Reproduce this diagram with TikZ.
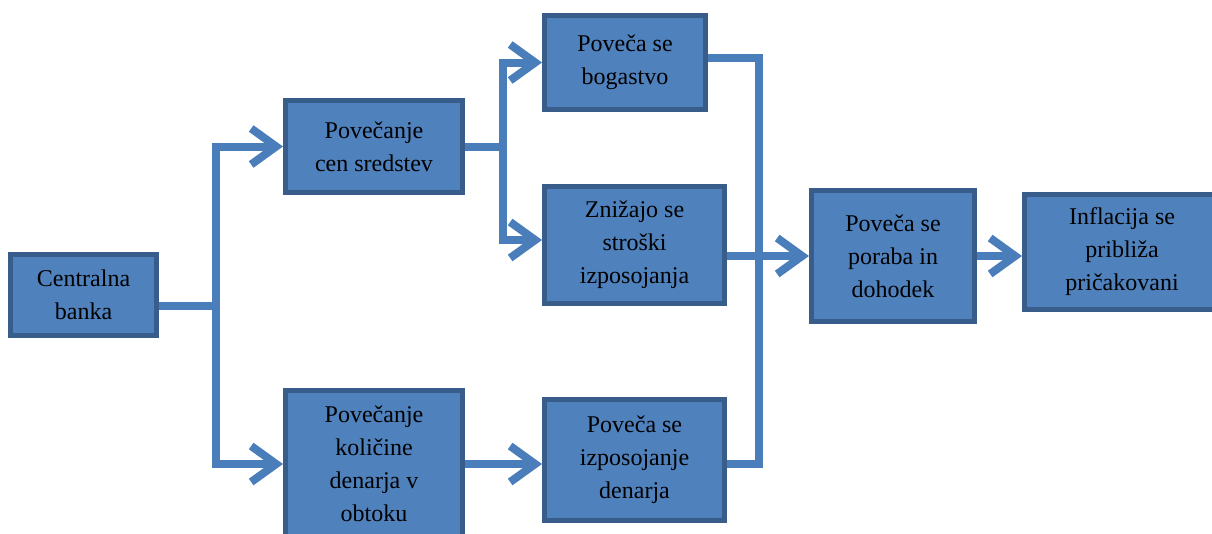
\documentclass[tikz,border=0pt]{standalone}
\usepackage{fontspec}
\setmainfont{Liberation Serif}
\usetikzlibrary{arrows.meta}
\definecolor{boxfill}{HTML}{4F81BD}
\definecolor{boxline}{HTML}{385D8A}
\definecolor{conncol}{HTML}{4A7EBB}
\begin{document}
\begin{tikzpicture}[x=1pt,y=-1pt,
  box/.style={draw=boxline, fill=boxfill, line width=5pt, align=center,
    inner sep=0pt, font=\fontsize{24}{33}\selectfont, text=black},
  conn/.style={draw=conncol, line width=8pt, line join=miter},
  arr/.style={conn, -{Straight Barb[length=25pt,width=36pt]}}]
\useasboundingbox (0,0) rectangle (1212,533);
% boxes
\node[box, minimum width=146pt, minimum height=81pt] (cb) at (83.5,295) {Centralna\\banka};
\node[box, minimum width=177pt, minimum height=92pt] (pcs) at (374,146.5) {Povečanje\\cen sredstev};
\node[box, minimum width=161pt, minimum height=94pt] (bog) at (625,62.5) {Poveča se\\bogastvo};
\node[box, minimum width=180pt, minimum height=117pt] (zni) at (634.5,245) {Znižajo se\\stroški\\izposojanja};
\node[box, minimum width=163pt, minimum height=131pt] (por) at (893,256) {Poveča se\\poraba in\\dohodek};
\node[box, minimum width=195pt, minimum height=115pt] (inf) at (1122,252) {Inflacija se\\približa\\pričakovani};
\node[box, minimum width=177pt, minimum height=147pt] (pkd) at (374,464) {Povečanje\\količine\\denarja v\\obtoku};
\node[box, minimum width=180pt, minimum height=121pt] (izp) at (634.5,460) {Poveča se\\izposojanje\\denarja};
% junctions
\coordinate (j1) at (216,306);
\coordinate (j2) at (503,146.5);
\coordinate (j3) at (759,464);
% connectors
\draw[conn] ([yshift=-11pt]cb.east) -- (j1);
\draw[arr] (j1) |- (pcs.west);
\draw[arr] (j1) |- (pkd.west);
\draw[conn] (pcs.east) -- (j2);
\draw[arr] (j2) |- (bog.west);
\draw[arr] (j2) |- ([yshift=5pt]zni.west);
\draw[conn] ([yshift=5pt]bog.east) -| (j3) -- ([yshift=-4pt]izp.east);
\draw[arr] (zni.east |- por.west) -- (por.west);
\draw[arr] (pkd.east) -- (pkd.east -| izp.west);
\draw[arr] (por.east) -- (por.east -| inf.west);
\end{tikzpicture}
\end{document}
